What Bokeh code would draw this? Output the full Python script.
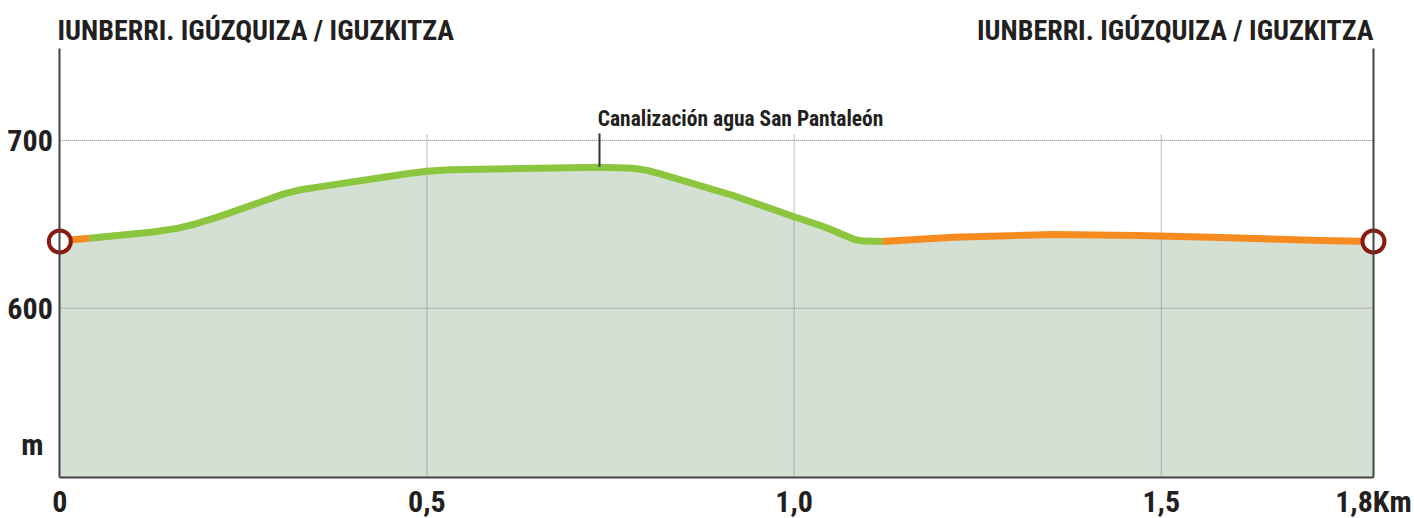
from bokeh.plotting import figure
from bokeh.models import Range1d, FixedTicker, LinearAxis, Label
from bokeh.embed import file_html
from bokeh.resources import INLINE

# ---- data ----
DIST_KM = [0.000, 0.017, 0.040, 0.124, 0.160, 0.182, 0.215, 0.260, 0.305, 0.330,
           0.351, 0.441, 0.475, 0.500, 0.532, 0.736, 0.781, 0.800, 0.818, 0.917,
           0.999, 1.036, 1.055, 1.070, 1.082, 1.095, 1.120, 1.217, 1.353, 1.468,
           1.581, 1.717, 1.789]
ELEV_M = [639.8, 640.8, 641.7, 645.3, 647.6, 649.9, 654.3, 661.2, 668.2, 670.8,
          672.2, 678.1, 680.3, 681.7, 682.5, 684.1, 683.5, 682.2, 680.1, 667.2,
          654.7, 649.3, 646.0, 643.2, 641.0, 640.0, 639.8, 642.3, 643.9, 643.4,
          642.2, 640.4, 639.8]
GREEN_FROM_KM = 0.040
GREEN_TO_KM = 1.120

X_TICKS = [0, 0.5, 1.0, 1.5, 1.789]
X_LABELS = ["0", "0,5", "1,0", "1,5", "1,8Km"]
Y_TICKS = [600, 700]
Y_LABELS = ["600", "700"]
X_GRID = [0.5, 1.0, 1.5]

START_NAME = "IUNBERRI. IGÚZQUIZA / IGUZKITZA"
END_NAME = "IUNBERRI. IGÚZQUIZA / IGUZKITZA"
POI_NAME = "Canalización agua San Pantaleón"
POI_KM = 0.735
POI_ELEV = 684.3
Y_UNIT = "m"

# ---- style ----
FONT = "'Roboto Condensed', 'DejaVu Sans Condensed', sans-serif"
TXT = "#231f20"
Y0, YTOP = 499.0, 754.6
X0, X1 = 0.0, 1.789

p = figure(width=1414, height=518, min_border=0,
           x_range=Range1d(-0.08076, 1.84489), y_range=Range1d(474.60, 783.48),
           output_backend="svg", toolbar_location=None,
           background_fill_color="white", border_fill_color="white")
p.outline_line_color = None
p.xgrid.visible = False
p.ygrid.visible = False

# area
p.varea(x=DIST_KM, y1=Y0, y2=ELEV_M, fill_color="#d5e0d5")

# grids (dotted)
p.segment(x0=X_GRID, y0=[Y0] * len(X_GRID), x1=X_GRID, y1=[703.5] * len(X_GRID),
          line_color="#808080", line_dash="1 1", line_width=1)
p.segment(x0=[X0] * len(Y_TICKS), y0=Y_TICKS, x1=[X1] * len(Y_TICKS), y1=Y_TICKS,
          line_color="#808080", line_dash="1 1", line_width=1)

# profile line
gx = [x for x in DIST_KM if GREEN_FROM_KM <= x <= GREEN_TO_KM]
gy = [y for x, y in zip(DIST_KM, ELEV_M) if GREEN_FROM_KM <= x <= GREEN_TO_KM]
o1x = [x for x in DIST_KM if x <= GREEN_FROM_KM]
o1y = [y for x, y in zip(DIST_KM, ELEV_M) if x <= GREEN_FROM_KM]
o2x = [x for x in DIST_KM if x >= GREEN_TO_KM]
o2y = [y for x, y in zip(DIST_KM, ELEV_M) if x >= GREEN_TO_KM]
p.line(gx, gy, line_color="#8cc63f", line_width=7, line_join="round")
p.line(o1x, o1y, line_color="#f68b1f", line_width=7, line_join="round")
p.line(o2x, o2y, line_color="#f68b1f", line_width=7, line_join="round")

# POI leader
p.segment(x0=[POI_KM], y0=[POI_ELEV], x1=[POI_KM], y1=[704.2], line_color="#333333", line_width=2)

# endpoints
p.scatter([DIST_KM[0], DIST_KM[-1]], [ELEV_M[0], ELEV_M[-1]], size=22,
          fill_color="white", line_color="#8b1a0e", line_width=4)

# axes
p.xaxis.fixed_location = Y0
p.xaxis.bounds = (X0, X1)
p.xaxis.ticker = FixedTicker(ticks=X_TICKS)
p.xaxis.major_label_overrides = {t: l for t, l in zip(X_TICKS, X_LABELS)}
p.yaxis.fixed_location = X0
p.yaxis.bounds = (Y0, YTOP)
p.yaxis.ticker = FixedTicker(ticks=Y_TICKS)
p.yaxis.major_label_overrides = {t: l for t, l in zip(Y_TICKS, Y_LABELS)}
raxis = LinearAxis(ticker=FixedTicker(ticks=[]), fixed_location=X1, bounds=(Y0, YTOP))
p.add_layout(raxis, "right")
for ax in (p.xaxis[0], p.yaxis[0], raxis):
    ax.axis_line_color = "#444444"
    ax.axis_line_width = 2
    ax.major_tick_line_color = None
    ax.minor_tick_line_color = None
    ax.major_tick_out = 0
    ax.major_tick_in = 0
    ax.major_label_text_font = FONT
    ax.major_label_text_font_style = "bold"
    ax.major_label_text_font_size = "30px"
    ax.major_label_text_color = TXT
p.xaxis.major_label_standoff = 6
p.yaxis.major_label_standoff = 7


# labels
def lab(x, y, t, align, size):
    p.add_layout(Label(x=x, y=y, text=t, text_align=align, text_baseline="alphabetic",
                       text_font=FONT, text_font_style="bold", text_font_size=size,
                       text_color=TXT))


lab(-0.0031, 765.8, START_NAME, "left", "28px")
lab(X1, 765.8, END_NAME, "right", "28px")
lab(0.7325, 713.3, POI_NAME, "left", "21.5px")
lab(-0.0372, 519.0, Y_UNIT, "center", "30px")

open("out.html", "w").write(file_html(p, INLINE))
